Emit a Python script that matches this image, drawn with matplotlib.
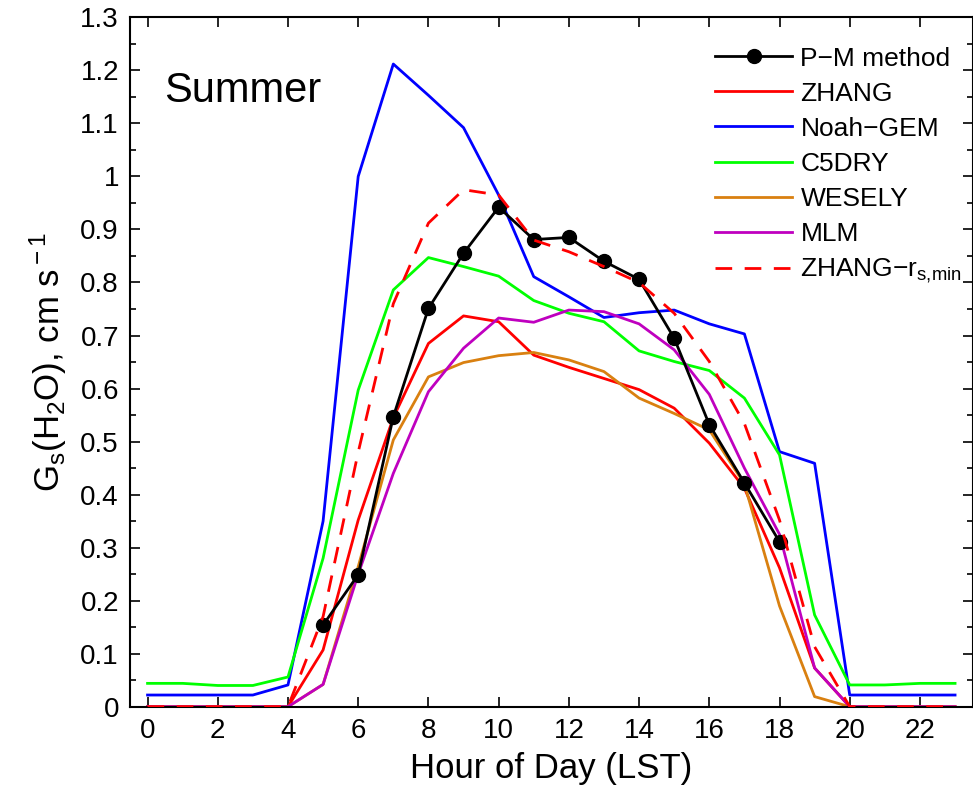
import numpy as np
import matplotlib
matplotlib.use("Agg")
import matplotlib.pyplot as plt

plt.rcParams['font.family'] = ['Liberation Sans', 'DejaVu Sans']
plt.rcParams['mathtext.fontset'] = 'custom'
plt.rcParams['mathtext.rm'] = 'Liberation Sans'
plt.rcParams['mathtext.it'] = 'Liberation Sans:italic'

hours = list(range(24))
pm_hours = list(range(5, 19))
pm_method = [0.154, 0.249, 0.547, 0.751, 0.855, 0.942, 0.881, 0.885, 0.840, 0.806,
             0.695, 0.532, 0.422, 0.311]
zhang = [0, 0, 0, 0, 0, 0.107, 0.352, 0.545, 0.685, 0.737, 0.726, 0.663, 0.640, 0.619,
         0.598, 0.563, 0.497, 0.412, 0.262, 0.073, 0, 0, 0, 0]
noah_gem = [0.022, 0.022, 0.022, 0.022, 0.041, 0.350, 1.000, 1.212, 1.153, 1.092, 0.965,
            0.811, 0.773, 0.734, 0.743, 0.748, 0.722, 0.703, 0.481, 0.459, 0.022, 0.022,
            0.022, 0.022]
c5dry = [0.044, 0.044, 0.040, 0.040, 0.056, 0.280, 0.597, 0.786, 0.847, 0.830, 0.812,
         0.766, 0.742, 0.726, 0.671, 0.651, 0.634, 0.582, 0.475, 0.173, 0.041, 0.041,
         0.044, 0.044]
wesely = [0, 0, 0, 0, 0, 0.042, 0.264, 0.503, 0.622, 0.649, 0.662, 0.668, 0.654, 0.632,
          0.582, 0.553, 0.522, 0.420, 0.190, 0.019, 0, 0, 0, 0]
mlm = [0, 0, 0, 0, 0, 0.042, 0.250, 0.440, 0.594, 0.676, 0.733, 0.725, 0.748, 0.745,
       0.722, 0.673, 0.589, 0.450, 0.325, 0.073, 0, 0, 0, 0]
zhang_rsmin = [0, 0, 0, 0, 0, 0.170, 0.480, 0.760, 0.912, 0.975, 0.965, 0.880, 0.858,
               0.830, 0.800, 0.742, 0.651, 0.534, 0.352, 0.113, 0, 0, 0, 0]

xticks = list(range(0, 24, 2))
yticks = [0, 0.1, 0.2, 0.3, 0.4, 0.5, 0.6, 0.7, 0.8, 0.9, 1.0, 1.1, 1.2, 1.3]
ytick_labels = ['0', '0.1', '0.2', '0.3', '0.4', '0.5', '0.6', '0.7', '0.8', '0.9',
                '1', '1.1', '1.2', '1.3']

fig = plt.figure(figsize=(9.73, 7.86), dpi=100)
ax = fig.add_axes([0.1336, 0.1009, 0.866, 0.877])

lw = 2.0
m = '\u2212'
ax.plot(pm_hours, pm_method, color='black', lw=lw, marker='o', markersize=10,
        label=f'P{m}M method', zorder=3)
ax.plot(hours, zhang, color=(1, 0, 0), lw=lw, label='ZHANG', zorder=2)
ax.plot(hours, noah_gem, color=(0, 0, 1), lw=lw, label=f'Noah{m}GEM', zorder=2)
ax.plot(hours, c5dry, color=(0, 1, 0), lw=lw, label='C5DRY', zorder=2)
ax.plot(hours, wesely, color='#D98010', lw=lw, label='WESELY', zorder=2)
ax.plot(hours, mlm, color='#BF00BF', lw=lw, label='MLM', zorder=2)
ax.plot(hours, zhang_rsmin, color=(1, 0, 0), lw=lw, dashes=(6, 4.5),
        label=f'ZHANG{m}r$_{{\\rm s{{,}}min}}$', zorder=4)

ax.set_xlim(-0.5, 23.5)
ax.set_ylim(0, 1.3)
ax.set_xticks(xticks)
ax.set_xticklabels([str(x) for x in xticks])
ax.set_yticks(yticks)
ax.set_yticklabels(ytick_labels)
ax.set_yticks(np.arange(0.05, 1.3, 0.1), minor=True)
ax.tick_params(which='both', direction='in', top=True, right=True, labelsize=20,
               width=1.2)
ax.tick_params(which='major', length=7, pad=8)
ax.tick_params(which='minor', length=4)
ax.tick_params(axis='x', which='minor', bottom=False, top=False)
for s in ax.spines.values():
    s.set_linewidth(1.5)

ax.set_xlabel('Hour of Day (LST)', fontsize=25, labelpad=6)
ax.set_ylabel('G$_{\\rm s}$(H$_{\\rm 2}$O), cm s$^{\\rm -1}$', fontsize=25, labelpad=8)

ax.text(0.47, 1.14, 'Summer', fontsize=30, va='baseline', ha='left')

leg = ax.legend(loc='upper right', bbox_to_anchor=(1.0, 0.973), frameon=False,
                fontsize=19, handlelength=2.95, handletextpad=0.3, labelspacing=0.42,
                borderaxespad=0)
fig.savefig('out.png', dpi=100)
